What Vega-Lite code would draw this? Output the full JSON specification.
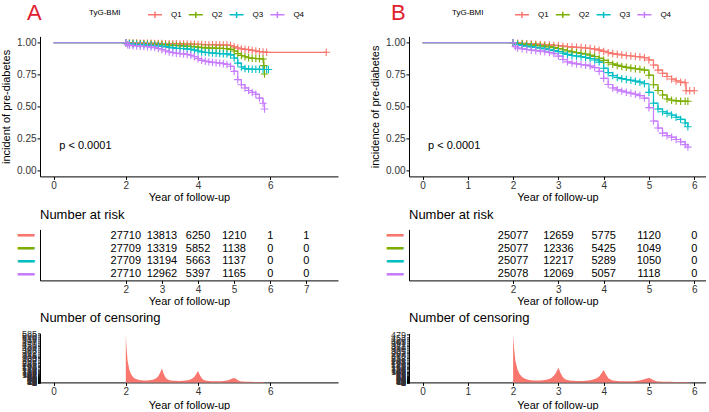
{
"$schema":"https://vega.github.io/schema/vega-lite/v6.json",
"padding":{"left":0,"top":1.4,"right":0,"bottom":0},
"autosize":{"type":"pad"},
"columns":2,
"bounds":"flush",
"spacing":{"row":53,"column":71},
"resolve":{"scale":{"color":"independent"},"legend":{"color":"independent"}},
"datasets":{
"survA":[
{"t":0,"Q1":1,"Q2":1,"Q3":1,"Q4":1},
{"t":2,"Q1":1,"Q2":1,"Q3":1,"Q4":1},
{"t":2.05,"Q1":null,"Q2":null,"Q3":null,"Q4":0.985},
{"t":2.1,"Q1":0.999,"Q2":0.997,"Q3":0.993,"Q4":0.98},
{"t":2.2,"Q1":0.998,"Q2":0.995,"Q3":0.99,"Q4":0.977},
{"t":2.3,"Q1":0.998,"Q2":0.994,"Q3":0.988,"Q4":0.975},
{"t":2.4,"Q1":0.997,"Q2":0.993,"Q3":0.986,"Q4":0.973},
{"t":2.5,"Q1":0.997,"Q2":0.992,"Q3":0.984,"Q4":0.971},
{"t":2.6,"Q1":0.996,"Q2":0.991,"Q3":0.982,"Q4":0.969},
{"t":2.7,"Q1":0.996,"Q2":0.99,"Q3":0.98,"Q4":0.966},
{"t":2.8,"Q1":0.995,"Q2":0.989,"Q3":0.978,"Q4":0.962},
{"t":2.9,"Q1":0.995,"Q2":0.988,"Q3":0.975,"Q4":0.955},
{"t":3.0,"Q1":0.994,"Q2":0.986,"Q3":0.972,"Q4":0.945},
{"t":3.1,"Q1":0.993,"Q2":0.984,"Q3":0.968,"Q4":0.935},
{"t":3.2,"Q1":0.993,"Q2":0.982,"Q3":0.964,"Q4":0.928},
{"t":3.3,"Q1":0.992,"Q2":0.98,"Q3":0.96,"Q4":0.922},
{"t":3.4,"Q1":0.992,"Q2":0.978,"Q3":0.957,"Q4":0.918},
{"t":3.5,"Q1":0.991,"Q2":0.976,"Q3":0.955,"Q4":0.915},
{"t":3.6,"Q1":0.99,"Q2":0.975,"Q3":0.953,"Q4":0.912},
{"t":3.7,"Q1":0.99,"Q2":0.973,"Q3":0.951,"Q4":0.908},
{"t":3.8,"Q1":0.989,"Q2":0.971,"Q3":0.948,"Q4":0.902},
{"t":3.9,"Q1":0.988,"Q2":0.968,"Q3":0.942,"Q4":0.89},
{"t":4.0,"Q1":0.987,"Q2":0.965,"Q3":0.935,"Q4":0.875},
{"t":4.1,"Q1":0.986,"Q2":0.962,"Q3":0.928,"Q4":0.862},
{"t":4.2,"Q1":0.985,"Q2":0.96,"Q3":0.924,"Q4":0.855},
{"t":4.3,"Q1":0.985,"Q2":0.959,"Q3":0.921,"Q4":0.85},
{"t":4.4,"Q1":0.984,"Q2":0.958,"Q3":0.919,"Q4":0.846},
{"t":4.5,"Q1":0.984,"Q2":0.957,"Q3":0.917,"Q4":0.843},
{"t":4.6,"Q1":0.983,"Q2":0.956,"Q3":0.915,"Q4":0.84},
{"t":4.7,"Q1":0.983,"Q2":0.955,"Q3":0.914,"Q4":0.836},
{"t":4.8,"Q1":0.982,"Q2":0.953,"Q3":0.912,"Q4":0.83},
{"t":4.9,"Q1":0.978,"Q2":0.948,"Q3":0.905,"Q4":0.815},
{"t":5.0,"Q1":0.968,"Q2":0.935,"Q3":0.88,"Q4":0.775},
{"t":5.1,"Q1":0.958,"Q2":0.915,"Q3":0.84,"Q4":0.71},
{"t":5.2,"Q1":0.952,"Q2":0.9,"Q3":0.81,"Q4":0.67},
{"t":5.3,"Q1":0.948,"Q2":0.89,"Q3":0.797,"Q4":0.645},
{"t":5.4,"Q1":0.945,"Q2":0.882,"Q3":0.793,"Q4":0.625},
{"t":5.5,"Q1":0.94,"Q2":0.878,"Q3":0.792,"Q4":0.61},
{"t":5.6,"Q1":0.935,"Q2":0.876,"Q3":0.792,"Q4":0.595},
{"t":5.7,"Q1":0.93,"Q2":0.874,"Q3":0.791,"Q4":0.565},
{"t":5.8,"Q1":0.927,"Q2":0.872,"Q3":0.79,"Q4":0.525},
{"t":5.82,"Q1":null,"Q2":0.82,"Q3":null,"Q4":null},
{"t":5.84,"Q1":null,"Q2":0.755,"Q3":null,"Q4":0.48},
{"t":5.9,"Q1":0.925,"Q2":null,"Q3":0.79,"Q4":null},
{"t":5.95,"Q1":null,"Q2":null,"Q3":0.79,"Q4":null},
{"t":7.55,"Q1":0.925,"Q2":null,"Q3":null,"Q4":null}
],
"survB":[
{"t":0,"Q1":1,"Q2":1,"Q3":1,"Q4":1},
{"t":2,"Q1":1,"Q2":1,"Q3":1,"Q4":1},
{"t":2.05,"Q1":null,"Q2":null,"Q3":null,"Q4":0.97},
{"t":2.1,"Q1":0.997,"Q2":0.993,"Q3":0.985,"Q4":0.958},
{"t":2.2,"Q1":0.995,"Q2":0.99,"Q3":0.978,"Q4":0.952},
{"t":2.3,"Q1":0.993,"Q2":0.987,"Q3":0.973,"Q4":0.947},
{"t":2.4,"Q1":0.991,"Q2":0.983,"Q3":0.968,"Q4":0.942},
{"t":2.5,"Q1":0.989,"Q2":0.98,"Q3":0.963,"Q4":0.938},
{"t":2.6,"Q1":0.987,"Q2":0.977,"Q3":0.958,"Q4":0.934},
{"t":2.7,"Q1":0.985,"Q2":0.973,"Q3":0.952,"Q4":0.929},
{"t":2.8,"Q1":0.983,"Q2":0.968,"Q3":0.945,"Q4":0.923},
{"t":2.9,"Q1":0.98,"Q2":0.962,"Q3":0.938,"Q4":0.914},
{"t":3.0,"Q1":0.977,"Q2":0.955,"Q3":0.93,"Q4":0.895},
{"t":3.1,"Q1":0.973,"Q2":0.945,"Q3":0.918,"Q4":0.868},
{"t":3.2,"Q1":0.969,"Q2":0.935,"Q3":0.908,"Q4":0.85},
{"t":3.3,"Q1":0.966,"Q2":0.928,"Q3":0.9,"Q4":0.84},
{"t":3.4,"Q1":0.964,"Q2":0.922,"Q3":0.895,"Q4":0.834},
{"t":3.5,"Q1":0.962,"Q2":0.916,"Q3":0.89,"Q4":0.829},
{"t":3.6,"Q1":0.959,"Q2":0.91,"Q3":0.884,"Q4":0.824},
{"t":3.7,"Q1":0.955,"Q2":0.902,"Q3":0.876,"Q4":0.817},
{"t":3.8,"Q1":0.95,"Q2":0.892,"Q3":0.865,"Q4":0.805},
{"t":3.9,"Q1":0.942,"Q2":0.878,"Q3":0.848,"Q4":0.775},
{"t":4.0,"Q1":0.932,"Q2":0.862,"Q3":0.8,"Q4":0.72},
{"t":4.1,"Q1":0.922,"Q2":0.845,"Q3":0.765,"Q4":0.672},
{"t":4.2,"Q1":0.915,"Q2":0.832,"Q3":0.742,"Q4":0.645},
{"t":4.3,"Q1":0.909,"Q2":0.822,"Q3":0.727,"Q4":0.63},
{"t":4.4,"Q1":0.904,"Q2":0.814,"Q3":0.718,"Q4":0.62},
{"t":4.5,"Q1":0.9,"Q2":0.807,"Q3":0.711,"Q4":0.611},
{"t":4.6,"Q1":0.896,"Q2":0.801,"Q3":0.705,"Q4":0.603},
{"t":4.7,"Q1":0.892,"Q2":0.796,"Q3":0.698,"Q4":0.595},
{"t":4.8,"Q1":0.888,"Q2":0.792,"Q3":0.69,"Q4":0.585},
{"t":4.9,"Q1":0.882,"Q2":0.785,"Q3":0.678,"Q4":0.565},
{"t":5.0,"Q1":0.865,"Q2":0.745,"Q3":0.61,"Q4":0.49},
{"t":5.1,"Q1":0.825,"Q2":0.67,"Q3":0.525,"Q4":0.385},
{"t":5.2,"Q1":0.785,"Q2":0.625,"Q3":0.48,"Q4":0.33},
{"t":5.3,"Q1":0.76,"Q2":0.59,"Q3":0.458,"Q4":0.29},
{"t":5.4,"Q1":0.735,"Q2":0.558,"Q3":0.445,"Q4":0.27},
{"t":5.5,"Q1":0.715,"Q2":0.548,"Q3":0.432,"Q4":0.258},
{"t":5.6,"Q1":0.7,"Q2":0.543,"Q3":0.415,"Q4":0.24},
{"t":5.7,"Q1":0.69,"Q2":0.541,"Q3":0.398,"Q4":0.222},
{"t":5.8,"Q1":0.686,"Q2":0.54,"Q3":0.37,"Q4":0.2},
{"t":5.82,"Q1":0.623,"Q2":null,"Q3":null,"Q4":null},
{"t":5.86,"Q1":null,"Q2":0.54,"Q3":0.34,"Q4":0.18},
{"t":5.9,"Q1":0.623,"Q2":null,"Q3":null,"Q4":null},
{"t":6.0,"Q1":0.623,"Q2":null,"Q3":null,"Q4":null}
],
"riskA":[
{"t":2,"Q1":27710,"Q2":27709,"Q3":27709,"Q4":27710},
{"t":3,"Q1":13813,"Q2":13319,"Q3":13194,"Q4":12962},
{"t":4,"Q1":6250,"Q2":5852,"Q3":5663,"Q4":5397},
{"t":5,"Q1":1210,"Q2":1138,"Q3":1137,"Q4":1165},
{"t":6,"Q1":1,"Q2":0,"Q3":0,"Q4":0},
{"t":7,"Q1":1,"Q2":0,"Q3":0,"Q4":0}
],
"riskB":[
{"t":2,"Q1":25077,"Q2":25077,"Q3":25077,"Q4":25078},
{"t":3,"Q1":12659,"Q2":12336,"Q3":12217,"Q4":12069},
{"t":4,"Q1":5775,"Q2":5425,"Q3":5289,"Q4":5057},
{"t":5,"Q1":1120,"Q2":1049,"Q3":1050,"Q4":1118},
{"t":6,"Q1":0,"Q2":0,"Q3":0,"Q4":0}
],
"censA":[
{"t":2.0,"n":575},{"t":2.02,"n":420},{"t":2.05,"n":260},{"t":2.1,"n":150},{"t":2.15,"n":95},{"t":2.2,"n":65},{"t":2.25,"n":48},{"t":2.3,"n":38},{"t":2.35,"n":31},{"t":2.4,"n":27},{"t":2.45,"n":25},{"t":2.5,"n":23},{"t":2.55,"n":23},{"t":2.6,"n":24},{"t":2.65,"n":26},{"t":2.7,"n":29},{"t":2.75,"n":33},{"t":2.8,"n":40},{"t":2.85,"n":52},{"t":2.9,"n":75},{"t":2.95,"n":115},{"t":3.0,"n":167},{"t":3.05,"n":105},{"t":3.1,"n":60},{"t":3.15,"n":38},{"t":3.2,"n":28},{"t":3.25,"n":23},{"t":3.3,"n":21},{"t":3.35,"n":20},{"t":3.4,"n":19},{"t":3.45,"n":18},{"t":3.5,"n":18},{"t":3.55,"n":19},{"t":3.6,"n":20},{"t":3.65,"n":22},{"t":3.7,"n":25},{"t":3.75,"n":30},{"t":3.8,"n":38},{"t":3.85,"n":50},{"t":3.9,"n":68},{"t":3.95,"n":100},{"t":4.0,"n":136},{"t":4.05,"n":90},{"t":4.1,"n":52},{"t":4.15,"n":33},{"t":4.2,"n":24},{"t":4.25,"n":19},{"t":4.3,"n":16},{"t":4.35,"n":15},{"t":4.4,"n":14},{"t":4.45,"n":13},{"t":4.5,"n":13},{"t":4.55,"n":13},{"t":4.6,"n":13},{"t":4.65,"n":14},{"t":4.7,"n":16},{"t":4.75,"n":19},{"t":4.8,"n":23},{"t":4.85,"n":30},{"t":4.9,"n":38},{"t":4.95,"n":46},{"t":5.0,"n":52},{"t":5.05,"n":44},{"t":5.1,"n":26},{"t":5.15,"n":16},{"t":5.2,"n":12},{"t":5.25,"n":10},{"t":5.3,"n":9},{"t":5.35,"n":8},{"t":5.4,"n":8},{"t":5.45,"n":7},{"t":5.5,"n":7},{"t":5.55,"n":6},{"t":5.6,"n":6},{"t":5.65,"n":5},{"t":5.7,"n":5},{"t":5.75,"n":4},{"t":5.8,"n":4},{"t":5.85,"n":3},{"t":5.88,"n":0}
],
"censB":[
{"t":2.0,"n":475},{"t":2.02,"n":350},{"t":2.05,"n":215},{"t":2.1,"n":125},{"t":2.15,"n":80},{"t":2.2,"n":55},{"t":2.25,"n":40},{"t":2.3,"n":31},{"t":2.35,"n":25},{"t":2.4,"n":21},{"t":2.45,"n":19},{"t":2.5,"n":18},{"t":2.55,"n":18},{"t":2.6,"n":19},{"t":2.65,"n":21},{"t":2.7,"n":24},{"t":2.75,"n":28},{"t":2.8,"n":35},{"t":2.85,"n":46},{"t":2.9,"n":66},{"t":2.95,"n":100},{"t":3.0,"n":147},{"t":3.05,"n":92},{"t":3.1,"n":52},{"t":3.15,"n":32},{"t":3.2,"n":23},{"t":3.25,"n":19},{"t":3.3,"n":17},{"t":3.35,"n":16},{"t":3.4,"n":15},{"t":3.45,"n":15},{"t":3.5,"n":15},{"t":3.55,"n":15},{"t":3.6,"n":16},{"t":3.65,"n":18},{"t":3.7,"n":21},{"t":3.75,"n":26},{"t":3.8,"n":33},{"t":3.85,"n":44},{"t":3.9,"n":60},{"t":3.95,"n":88},{"t":4.0,"n":124},{"t":4.05,"n":80},{"t":4.1,"n":45},{"t":4.15,"n":28},{"t":4.2,"n":20},{"t":4.25,"n":16},{"t":4.3,"n":13},{"t":4.35,"n":12},{"t":4.4,"n":11},{"t":4.45,"n":11},{"t":4.5,"n":11},{"t":4.55,"n":11},{"t":4.6,"n":11},{"t":4.65,"n":12},{"t":4.7,"n":13},{"t":4.75,"n":16},{"t":4.8,"n":20},{"t":4.85,"n":26},{"t":4.9,"n":32},{"t":4.95,"n":39},{"t":5.0,"n":43},{"t":5.05,"n":36},{"t":5.1,"n":22},{"t":5.15,"n":14},{"t":5.2,"n":10},{"t":5.25,"n":8},{"t":5.3,"n":7},{"t":5.35,"n":7},{"t":5.4,"n":6},{"t":5.45,"n":6},{"t":5.5,"n":6},{"t":5.55,"n":5},{"t":5.6,"n":5},{"t":5.65,"n":5},{"t":5.7,"n":4},{"t":5.75,"n":4},{"t":5.8,"n":4},{"t":5.85,"n":3},{"t":5.9,"n":2},{"t":5.93,"n":0}
]
},
"concat":[
{
"width":298,"height":140,
"title":{"text":"A","anchor":"start","frame":"group","fontSize":22,"color":"#E0202E","dx":-13,"offset":-18.6},
"layer":[
{"data":{"name":"survA"},
"transform":[{"fold":["Q1","Q2","Q3","Q4"],"as":["g","s"]},{"filter":"isValid(datum.s)"}],
"mark":{"type":"line","interpolate":"step-after","strokeWidth":1.2},
"encoding":{
"x":{"field":"t","type":"quantitative","scale":{"domain":[-0.375,7.875],"nice":false,"zero":false},"axis":{"values":[0,2,4,6],"title":"Year of follow-up","titlePadding":1}},
"y":{"field":"s","type":"quantitative","scale":{"domain":[-0.05,1.05],"nice":false,"zero":false},"axis":{"values":[0,0.25,0.5,0.75,1],"format":".2f","title":"incident of pre-diabetes","titlePadding":5}},
"color":{"field":"g","type":"nominal","scale":{"domain":["Q1","Q2","Q3","Q4"],"range":["#F8766D","#7CAE00","#00BFC4","#C77CFF"]},
"legend":{"orient":"none","legendX":49,"legendY":-30,"direction":"horizontal","title":"TyG-BMI","titleOrient":"left","titlePadding":26,"labelOffset":8,"columnPadding":3.8,"symbolType":"M-1,0H1M0,-0.45V0.45","symbolSize":196,"symbolStrokeWidth":1.5}}
}},
{"data":{"name":"survA"},
"transform":[{"fold":["Q1","Q2","Q3","Q4"],"as":["g","s"]},{"filter":"isValid(datum.s) && datum.t >= 2"}],
"mark":{"type":"point","shape":"M-1,0H1M0,-1V1","size":56,"filled":false,"strokeWidth":1.1,"opacity":1},
"encoding":{
"x":{"field":"t","type":"quantitative","axis":{"values":[0,2,4,6],"title":"Year of follow-up","titlePadding":1}},
"y":{"field":"s","type":"quantitative","axis":{"values":[0,0.25,0.5,0.75,1],"format":".2f","title":"incident of pre-diabetes","titlePadding":5}},
"color":{"field":"g","type":"nominal"},
"order":{"field":"g","type":"nominal"}}},
{"data":{"values":[{"lab":"p < 0.0001"}]},
"mark":{"type":"text","align":"left","baseline":"middle","fontSize":11,"color":"#000"},
"encoding":{"x":{"datum":0.16,"type":"quantitative","axis":{"values":[0,2,4,6],"title":"Year of follow-up","titlePadding":1}},"y":{"datum":0.19,"type":"quantitative","axis":{"values":[0,0.25,0.5,0.75,1],"format":".2f","title":"incident of pre-diabetes","titlePadding":5}},"text":{"field":"lab","type":"nominal"}}}
]
},
{
"width":297,"height":140,
"title":{"text":"B","anchor":"start","frame":"group","fontSize":22,"color":"#E0202E","dx":-18,"offset":-18.6},
"layer":[
{"data":{"name":"survB"},
"transform":[{"fold":["Q1","Q2","Q3","Q4"],"as":["g","s"]},{"filter":"isValid(datum.s)"}],
"mark":{"type":"line","interpolate":"step-after","strokeWidth":1.2},
"encoding":{
"x":{"field":"t","type":"quantitative","scale":{"domain":[-0.3,6.26],"nice":false,"zero":false},"axis":{"values":[0,1,2,3,4,5,6],"title":"Year of follow-up","titlePadding":1}},
"y":{"field":"s","type":"quantitative","scale":{"domain":[-0.05,1.05],"nice":false,"zero":false},"axis":{"values":[0,0.25,0.5,0.75,1],"format":".2f","title":"incidence of pre-diabetes","titlePadding":5}},
"color":{"field":"g","type":"nominal","scale":{"domain":["Q1","Q2","Q3","Q4"],"range":["#F8766D","#7CAE00","#00BFC4","#C77CFF"]},
"legend":{"orient":"none","legendX":43,"legendY":-30,"direction":"horizontal","title":"TyG-BMI","titleOrient":"left","titlePadding":30,"labelOffset":8,"columnPadding":3.8,"symbolType":"M-1,0H1M0,-0.45V0.45","symbolSize":196,"symbolStrokeWidth":1.5}}
}},
{"data":{"name":"survB"},
"transform":[{"fold":["Q1","Q2","Q3","Q4"],"as":["g","s"]},{"filter":"isValid(datum.s) && datum.t >= 2"}],
"mark":{"type":"point","shape":"M-1,0H1M0,-1V1","size":56,"filled":false,"strokeWidth":1.1,"opacity":1},
"encoding":{
"x":{"field":"t","type":"quantitative","axis":{"values":[0,1,2,3,4,5,6],"title":"Year of follow-up","titlePadding":1}},
"y":{"field":"s","type":"quantitative","axis":{"values":[0,0.25,0.5,0.75,1],"format":".2f","title":"incidence of pre-diabetes","titlePadding":5}},
"color":{"field":"g","type":"nominal"},
"order":{"field":"g","type":"nominal"}}},
{"data":{"values":[{"lab":"p < 0.0001"}]},
"mark":{"type":"text","align":"left","baseline":"middle","fontSize":11,"color":"#000"},
"encoding":{"x":{"datum":0.12,"type":"quantitative","axis":{"values":[0,1,2,3,4,5,6],"title":"Year of follow-up","titlePadding":1}},"y":{"datum":0.19,"type":"quantitative","axis":{"values":[0,0.25,0.5,0.75,1],"format":".2f","title":"incidence of pre-diabetes","titlePadding":5}},"text":{"field":"lab","type":"nominal"}}}
]
},
{
"width":298,"height":51,
"title":{"text":"Number at risk","anchor":"start","frame":"group","fontSize":13,"offset":7},
"data":{"name":"riskA"},
"transform":[{"fold":["Q1","Q2","Q3","Q4"],"as":["g","n"]}],
"mark":{"type":"text","fontSize":11,"color":"#000"},
"encoding":{
"x":{"field":"t","type":"quantitative","scale":{"domain":[-0.375,7.875],"nice":false,"zero":false},"axis":{"values":[2,3,4,5,6,7],"title":"Year of follow-up","titlePadding":1}},
"y":{"field":"g","type":"nominal","scale":{"domain":["Q1","Q2","Q3","Q4"]},"axis":{"title":null,"ticks":false,"tickSize":0,"labelPadding":6,"labelExpr":"'━━'","labelFont":"DejaVu Sans Mono","labelFontSize":14,"labelColor":{"condition":[{"test":"datum.value==='Q1'","value":"#F8766D"},{"test":"datum.value==='Q2'","value":"#7CAE00"},{"test":"datum.value==='Q3'","value":"#00BFC4"}],"value":"#C77CFF"}}},
"text":{"field":"n","type":"nominal"}
}
},
{
"width":297,"height":51,
"title":{"text":"Number at risk","anchor":"start","frame":"group","fontSize":13,"offset":7},
"data":{"name":"riskB"},
"transform":[{"fold":["Q1","Q2","Q3","Q4"],"as":["g","n"]}],
"mark":{"type":"text","fontSize":11,"color":"#000"},
"encoding":{
"x":{"field":"t","type":"quantitative","scale":{"domain":[-0.3,6.26],"nice":false,"zero":false},"axis":{"values":[2,3,4,5,6],"title":"Year of follow-up","titlePadding":1}},
"y":{"field":"g","type":"nominal","scale":{"domain":["Q1","Q2","Q3","Q4"]},"axis":{"title":null,"ticks":false,"tickSize":0,"labelPadding":6,"labelExpr":"'━━'","labelFont":"DejaVu Sans Mono","labelFontSize":14,"labelColor":{"condition":[{"test":"datum.value==='Q1'","value":"#F8766D"},{"test":"datum.value==='Q2'","value":"#7CAE00"},{"test":"datum.value==='Q3'","value":"#00BFC4"}],"value":"#C77CFF"}}},
"text":{"field":"n","type":"nominal"}
}
},
{
"width":298,"height":49,
"title":{"text":"Number of censoring","anchor":"start","frame":"group","fontSize":13,"offset":5},
"data":{"name":"censA"},
"mark":{"type":"area","color":"#F8766D"},
"encoding":{
"x":{"field":"t","type":"quantitative","scale":{"domain":[-0.375,7.875],"nice":false,"zero":false},"axis":{"values":[0,2,4,6],"title":"Year of follow-up","titlePadding":3}},
"y":{"field":"n","type":"quantitative","scale":{"domain":[0,590],"nice":false},"axis":{"values":[585,560,540,518,497,470,451,430,404,388,362,341,318,300,283,262,245,227,208,193,176,160,148,136,124,112,101,92,83,75,68,61,55,49,44,39,35,31,27,24,21,18,15,13,11,9,7,5,4,3,2,1,0],"title":null,"labelOverlap":false,"labelFontSize":9,"tickSize":2.5,"labelPadding":1}}
}
},
{
"width":297,"height":49,
"title":{"text":"Number of censoring","anchor":"start","frame":"group","fontSize":13,"offset":5},
"data":{"name":"censB"},
"mark":{"type":"area","color":"#F8766D"},
"encoding":{
"x":{"field":"t","type":"quantitative","scale":{"domain":[-0.3,6.26],"nice":false,"zero":false},"axis":{"values":[0,1,2,3,4,5,6],"title":"Year of follow-up","titlePadding":3}},
"y":{"field":"n","type":"quantitative","scale":{"domain":[0,490],"nice":false},"axis":{"values":[479,453,426,405,391,372,361,340,321,305,287,270,252,238,221,205,190,176,162,150,138,126,115,105,96,87,79,72,65,58,52,47,42,37,33,29,26,23,20,17,15,13,11,9,7,6,5,4,3,2,1,0],"title":null,"labelOverlap":false,"labelFontSize":9,"tickSize":2.5,"labelPadding":1}}
}
}
],
"config":{
"font":"Liberation Sans",
"view":{"stroke":null},
"axis":{"grid":false,"domainColor":"#000","tickColor":"#000","labelColor":"#333","titleColor":"#000","labelFontSize":10,"titleFontSize":11,"titleFontWeight":"normal","tickSize":3,"labelPadding":1,"labelFlush":false,"labelOverlap":false,"domainWidth":1},
"title":{"fontWeight":"normal","color":"#000"},
"legend":{"titleFontSize":8,"titleFontWeight":"normal","titleColor":"#000","labelFontSize":8,"labelColor":"#000"}
}
}
